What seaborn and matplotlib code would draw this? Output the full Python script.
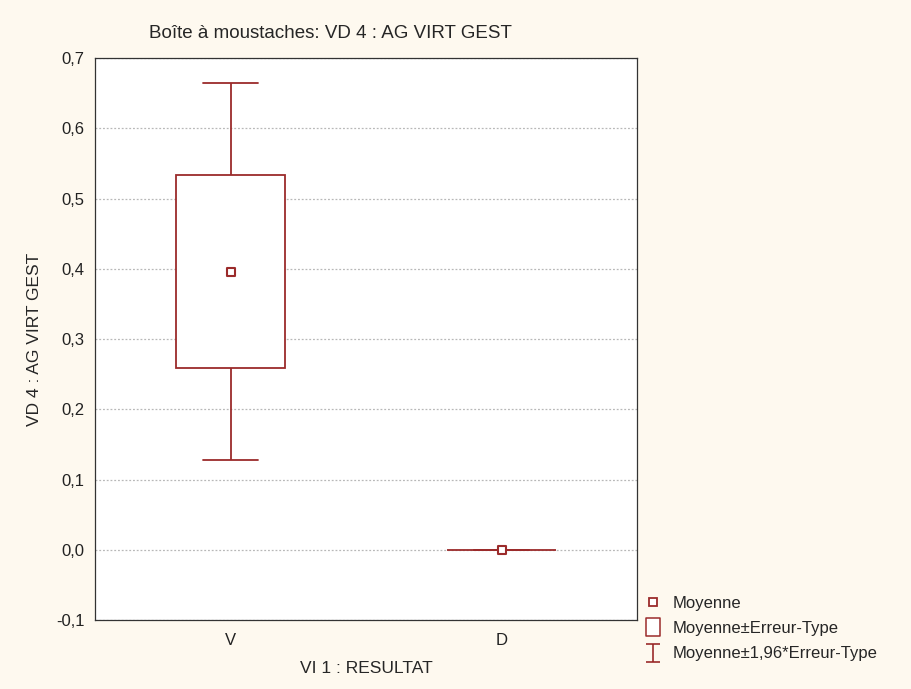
import matplotlib
matplotlib.use("Agg")
import matplotlib.pyplot as plt
import seaborn as sns
import pandas as pd
from matplotlib.lines import Line2D
from matplotlib.path import Path

# Données (moyenne et erreur-type par groupe)
groupes = ["V", "D"]
moyennes = [0.396, 0.0]
erreurs_type = [0.137, 0.0]
yticks = [-0.1, 0.0, 0.1, 0.2, 0.3, 0.4, 0.5, 0.6, 0.7]
ytick_labels = ["-0,1", "0,0", "0,1", "0,2", "0,3", "0,4", "0,5", "0,6", "0,7"]

rouge = "#9b2b2b"
fond = "#fef9ef"

sns.set_style("white")
plt.rcParams["font.family"] = ["Liberation Sans", "DejaVu Sans"]

# 5 points par groupe: les quartiles donnent moyenne±ET, les extrêmes moyenne±1,96*ET
lignes = []
for g, m, se in zip(groupes, moyennes, erreurs_type):
    for k in [-1.96, -1.0, 0.0, 1.0, 1.96]:
        lignes.append({"groupe": g, "valeur": m + k * se})
df = pd.DataFrame(lignes)
df_moy = pd.DataFrame({"groupe": groupes, "valeur": moyennes})

fig = plt.figure(figsize=(9.12, 6.89), dpi=100, facecolor=fond)
ax = fig.add_axes([0.1042, 0.1001, 0.5943, 0.8157])
ax.set_facecolor("white")

ax.set_axisbelow(True)
ax.yaxis.grid(True, color="#b8b8b8", linestyle=(0, (1.5, 1.5)), linewidth=0.9)

sns.boxplot(data=df, x="groupe", y="valeur", order=groupes, whis=(0, 100), width=0.4,
            color="white", linecolor=rouge, linewidth=1.3, showfliers=False,
            medianprops={"linewidth": 0}, ax=ax, zorder=3)
sns.scatterplot(data=df_moy, x="groupe", y="valeur", marker="s", s=40,
                facecolor="white", edgecolor=rouge, linewidth=1.5, ax=ax, zorder=5)

ax.set_xlim(-0.5, 1.5)
ax.set_ylim(-0.1, 0.7)
ax.set_yticks(yticks)
ax.set_yticklabels(ytick_labels)
ax.tick_params(axis="both", direction="out", length=4, width=0.8, labelsize=12, colors="#222222")
ax.tick_params(axis="x", pad=5)
for s in ax.spines.values():
    s.set_color("#333333")
    s.set_linewidth(0.9)

ax.set_xlabel("VI 1 : RESULTAT", fontsize=12.5, labelpad=10)
ax.set_ylabel("VD 4 : AG VIRT GEST", fontsize=12.5, labelpad=10)
fig.text(0.362, 0.952, "Boîte à moustaches: VD 4 : AG VIRT GEST", ha="center", va="center", fontsize=13.5)

# Légende
ibeam = Path([(-0.4, 0.5), (0.4, 0.5), (0, 0.5), (0, -0.5), (-0.4, -0.5), (0.4, -0.5)],
             [Path.MOVETO, Path.LINETO, Path.MOVETO, Path.LINETO, Path.MOVETO, Path.LINETO])
rect = Path([(-0.39, -0.5), (0.39, -0.5), (0.39, 0.5), (-0.39, 0.5), (-0.39, -0.5)],
            [Path.MOVETO, Path.LINETO, Path.LINETO, Path.LINETO, Path.CLOSEPOLY])
poignees = [
    Line2D([], [], linestyle="none", marker="s", markersize=6, markerfacecolor="white",
           markeredgecolor=rouge, markeredgewidth=1.3),
    Line2D([], [], linestyle="none", marker=rect, markersize=13, markerfacecolor="white",
           markeredgecolor=rouge, markeredgewidth=1.1),
    Line2D([], [], linestyle="none", marker=ibeam, markersize=13, markerfacecolor="none",
           markeredgecolor=rouge, markeredgewidth=1.2),
]
fig.legend(poignees, ["Moyenne", "Moyenne±Erreur-Type", "Moyenne±1,96*Erreur-Type"],
           loc="upper left", bbox_to_anchor=(0.694, 0.1523), frameon=False, fontsize=12,
           handlelength=1.0, handletextpad=0.7, labelspacing=0.62, borderpad=0.2)

fig.savefig("out.png", dpi=100, facecolor=fond)
